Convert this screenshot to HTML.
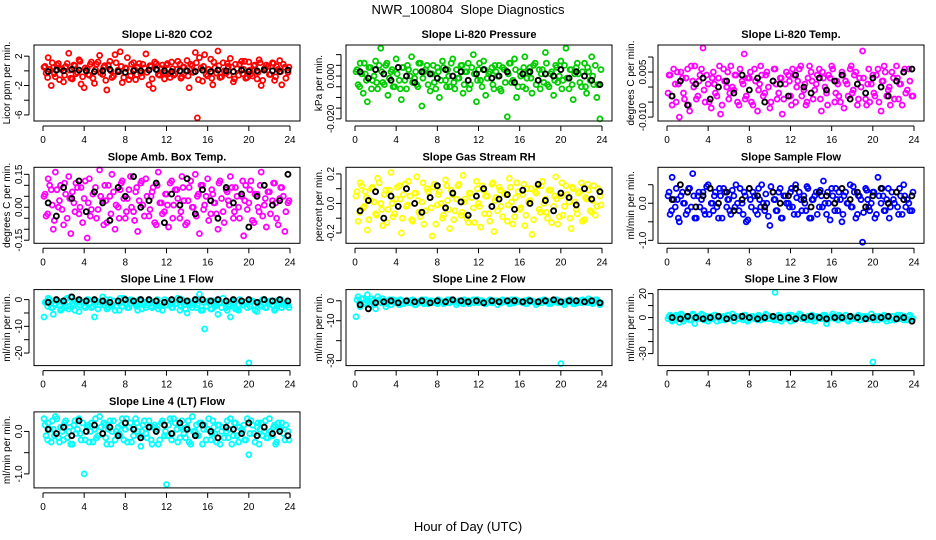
<!DOCTYPE html>
<html><head><meta charset="utf-8"><style>
body{margin:0;background:#fff;}
svg{display:block;font-family:"Liberation Sans",sans-serif;}
</style></head><body>
<svg id="chart" width="936" height="540" viewBox="0 0 936 540" xmlns="http://www.w3.org/2000/svg">
<text x="468" y="14" text-anchor="middle" font-size="13" xml:space="preserve">NWR_100804  Slope Diagnostics</text>
<text x="468" y="531" text-anchor="middle" font-size="13">Hour of Day (UTC)</text>
</svg>
<script>
const hours = [0.1,0.3,0.5,0.8,1.0,1.2,1.5,1.7,2.0,2.2,2.5,2.7,3.0,3.2,3.5,3.7,4.0,4.3,4.5,4.7,5.0,5.2,5.5,5.8,6.0,6.2,6.5,6.7,7.0,7.3,7.5,7.7,8.0,8.2,8.5,8.8,9.0,9.2,9.5,9.7,10.0,10.3,10.5,10.7,11.0,11.2,11.5,11.8,12.0,12.2,12.5,12.7,13.0,13.3,13.5,13.7,14.0,14.2,14.5,14.8,15.0,15.2,15.5,15.7,16.0,16.3,16.5,16.7,17.0,17.2,17.5,17.8,18.0,18.2,18.5,18.7,19.0,19.3,19.5,19.7,20.0,20.2,20.5,20.8,21.0,21.2,21.5,21.7,22.0,22.3,22.5,22.7,23.0,23.2,23.5,23.8];
const hours2 = [0.2,0.45,0.65,0.9,1.1,1.35,1.6,1.85,2.1,2.35,2.6,2.85,3.1,3.35,3.6,3.85,4.1,4.4,4.6,4.85,5.1,5.35,5.6,5.9,6.1,6.35,6.6,6.85,7.1,7.4,7.6,7.85,8.1,8.35,8.6,8.9,9.1,9.35,9.6,9.85,10.1,10.4,10.6,10.85,11.1,11.35,11.6,11.9,12.1,12.35,12.6,12.85,13.1,13.4,13.6,13.85,14.1,14.35,14.6,14.9,15.1,15.35,15.6,15.85,16.1,16.4,16.6,16.85,17.1,17.35,17.6,17.9,18.1,18.35,18.6,18.85,19.1,19.4,19.6,19.85,20.1,20.35,20.6,20.9,21.1,21.35,21.6,21.85,22.1,22.4,22.6,22.85,23.1,23.35,23.6,23.9];
const refHours = [0.5,1.3,2.0,2.8,3.5,4.2,5.0,5.8,6.5,7.3,8.0,8.8,9.5,10.3,11.0,11.8,12.5,13.3,14.0,14.8,15.5,16.3,17.0,17.8,18.5,19.3,20.0,20.8,21.5,22.3,23.0,23.8];
const xTicks = [0,4,8,12,16,20,24];

const co2Vals = [0.5,-0.3,1.8,-2.0,0.4,-0.8,1.0,0.2,-1.5,0.6,2.4,-1.0,0.8,-0.4,1.5,-1.8,-2.3,0.3,-0.6,1.2,-1.7,0.9,2.1,-0.5,0.7,-2.6,1.3,-0.9,2.2,0.1,2.6,-1.6,0.4,1.8,-0.7,1.1,-1.2,0.5,-0.3,0.9,2.3,-1.9,0.6,-2.4,1.0,-0.5,0.3,-1.1,0.8,-0.4,1.2,-0.6,0.2,0.9,-0.8,0.5,1.4,-2.3,0.7,2.5,-6.4,1.8,-1.4,2.2,-0.7,1.6,-1.9,0.4,2.7,-0.9,1.1,-0.3,0.6,1.7,-1.5,0.9,-0.6,1.3,0.2,-1.0,1.2,-0.4,0.7,-1.1,1.5,-2.0,0.3,0.8,-0.5,1.1,-1.3,0.6,1.4,-1.9,0.5,-0.2];
const co2Vals2 = [0.6,-0.9,0.2,1.1,-0.4,0.8,-1.2,0.3,-0.6,1.0,0.1,-1.1,0.7,-0.2,1.3,-0.8,0.4,-0.5,0.9,-1.0,0.2,1.2,-0.3,0.5,-1.3,0.8,0.0,-0.7,1.1,-0.1,0.6,-0.9,0.3,-1.2,0.9,0.2,-0.5,1.0,-0.8,0.4,-0.2,0.7,-1.1,1.2,0.1,-0.6,0.8,-0.3,1.0,-0.9,0.3,-0.4,1.3,-1.0,0.5,0.0,-0.7,0.9,-0.2,1.1,-1.2,0.4,0.6,-0.5,0.2,-1.0,1.2,-0.3,0.7,-0.8,0.0,1.0,-0.6,0.5,-1.1,0.3,0.9,-0.4,1.3,-0.9,0.1,-0.7,0.8,-0.2,1.1,-1.3,0.4,0.6,-0.5,1.0,-0.8,0.2,-0.1,0.9,-1.0,0.5];
const co2Ref = [-0.1,0.1,0,0.2,0.1,0,-0.1,0,0.2,-0.1,-0.2,0,0,0.1,0.2,0,-0.1,0,0,-0.1,0.1,-0.1,0.1,0,-0.1,0.1,-0.1,0,0.1,0,-0.1,0.1];

const presVals = [.002,-.004,.006,-.008,.001,-.012,.004,-.002,.007,-.006,.013,-.003,.005,-.009,.002,-.005,.008,-.002,-.011,.004,-.006,.003,.009,-.001,-.004,.006,-.014,.002,.005,-.007,.001,-.003,.004,-.010,.007,-.002,.003,-.005,.008,-.006,-.001,.005,-.008,.002,.006,-.004,.010,-.012,.003,-.002,.007,-.009,.001,.004,-.006,.002,.005,-.007,.003,-.019,.006,-.003,.008,-.010,.002,-.005,.009,-.001,.004,-.008,.006,-.002,-.006,.003,.011,-.004,.001,-.009,.005,-.003,.007,-.002,.013,-.006,.003,-.011,.004,.001,-.005,.006,-.008,.002,.009,-.004,-.010,-.020];
const presVals2 = [.003,-.005,.001,.006,-.002,.004,-.006,.000,-.003,.005,.002,-.004,.006,-.001,.003,-.005,.001,-.006,.004,-.002,.005,.000,-.003,.002,-.005,.006,-.001,.003,-.004,.001,.005,-.006,.002,-.002,.004,-.005,.000,.006,-.003,.003,-.001,.005,-.004,.002,-.006,.004,.001,-.002,.006,-.005,.003,-.001,.002,-.004,.005,.000,-.006,.004,-.003,.001,.006,-.002,.003,-.005,.000,.004,-.006,.002,-.001,.005,-.004,.003,.001,-.003,.006,-.005,.002,-.002,.004,.000,-.006,.005,-.001,.003,-.004,.001,.006,-.003,.002,-.005,.004,-.002,.000,.005,-.004,.003];
const presRef = [.002,-.001,.003,.001,-.002,.004,.000,-.003,.002,.001,-.001,.003,.000,.002,-.002,.001,.003,-.001,.000,.002,-.003,.001,.002,-.002,.001,.000,.003,-.001,.002,.000,-.002,-.004];

const tempVals = [-.002,.004,-.006,.001,.005,-.010,.003,-.004,.006,-.008,.002,.007,-.003,.004,.013,-.005,.001,-.007,.005,-.002,.003,-.009,.006,.000,-.004,.007,-.001,.004,-.006,.002,.011,-.003,.003,-.005,.006,-.008,.001,.004,-.002,.005,-.007,.002,.006,-.004,.003,-.009,.001,.004,-.003,.006,-.005,.002,.007,-.001,-.006,.003,.005,-.004,.001,.006,-.008,.003,-.002,.004,.007,-.005,.002,-.003,.005,-.007,.001,.006,-.002,.004,-.006,.003,.012,-.004,.001,-.005,.004,-.003,.006,-.008,.002,.005,-.001,-.006,.003,.007,-.004,.001,.005,-.002,.006,-.003];
const tempVals2 = [.004,-.003,.006,-.005,.001,.005,-.002,.003,-.006,.007,.000,-.004,.002,.006,-.001,.004,-.005,.003,.001,-.003,.007,-.006,.002,.005,-.002,.000,.004,-.005,.006,.001,-.004,.003,.005,-.006,.002,-.001,.007,-.003,.004,.000,-.005,.006,.001,-.002,.003,-.004,.005,.002,-.006,.004,.000,.006,-.003,.001,-.005,.007,.002,-.001,.004,-.004,.005,.000,-.006,.003,.006,-.002,.001,-.005,.004,.002,-.003,.007,-.001,.005,-.004,.000,.003,-.006,.006,.001,-.002,.004,-.005,.002,.007,-.003,.000,.005,-.004,.003,.001,-.006,.006,-.001,.002,-.003];
const tempRef = [-.003,.002,-.006,.001,.003,-.004,.000,.002,-.002,.004,-.001,.003,-.005,.002,.001,-.003,.004,.000,-.002,.003,-.001,.002,.004,-.004,.001,-.002,.003,.000,-.003,.002,.005,.006];

const boxVals = [.05,-.04,.13,.08,-.10,.16,.00,.10,-.08,.06,.14,-.12,.02,.11,-.03,.09,.04,-.14,.13,-.01,.07,-.05,.17,.03,.10,-.07,.05,.15,-.10,.00,.08,.12,-.05,.04,.14,-.02,.07,-.11,.11,.01,.13,-.04,.05,.09,-.08,.16,.02,-.02,.06,-.09,.12,.01,.08,-.05,.14,.03,-.07,.09,.00,.15,.05,-.12,.10,.01,.13,-.03,.06,.02,-.10,.12,-.02,.08,.03,.14,-.05,.09,.00,.05,-.13,.10,.02,.12,-.07,.06,-.02,.16,.01,-.09,.07,.03,.11,-.05,.04,.09,-.11,.02];
const boxVals2 = [.06,-.03,.10,.01,-.06,.08,.03,-.01,.11,-.05,.04,.07,-.02,.09,.00,-.07,.12,.02,-.04,.06,.09,-.01,.05,-.08,.03,.10,-.03,.07,.01,-.05,.11,.04,-.02,.08,.00,-.06,.09,.03,.12,-.04,.05,-.01,.07,-.07,.10,.02,-.03,.06,.01,.11,-.05,.08,.04,-.02,.09,-.08,.03,.12,.00,-.04,.06,.10,-.01,.05,-.06,.08,.02,-.03,.11,.04,-.07,.07,.01,.09,-.02,.05,-.05,.12,.03,-.01,.08,-.06,.06,.00,.10,-.04,.04,.07,-.03,.11,.02,-.08,.09,.05,-.02,.03];
const boxRef = [.02,-.04,.09,.04,.12,-.02,.07,.02,-.06,.09,.05,.14,.00,.03,.11,-.07,.06,.01,.13,-.03,.08,.03,-.05,.09,.02,.06,-.09,.05,.10,.01,.03,.15];

const rhVals = [.05,-.12,.14,-.03,.08,-.18,.02,.11,-.07,.17,.00,-.15,.09,-.04,.21,-.09,.03,.12,-.20,.06,-.02,.15,-.11,.07,.18,-.06,.01,-.14,.10,.04,-.22,.13,-.01,.08,-.10,.16,.02,-.17,.06,-.05,.12,-.08,.19,.03,-.13,.07,-.03,.15,.00,-.16,.09,.05,-.07,.13,-.19,.04,.11,-.02,.07,-.12,.17,.01,-.09,.14,-.04,.06,-.15,.10,.02,-.21,.08,.12,-.06,.15,.03,-.10,.09,-.02,.18,-.14,.05,-.08,.12,.01,-.17,.10,-.04,.07,.14,-.11,.03,.09,-.06,.12,-.02,.05];
const rhVals2 = [.08,-.06,.12,-.02,.04,-.11,.10,.01,-.08,.14,-.04,.06,-.13,.09,.00,-.07,.11,.03,-.10,.13,-.01,.05,-.12,.07,.02,-.09,.14,-.05,.08,-.03,.11,-.14,.06,.00,-.08,.12,-.04,.09,-.11,.03,.13,-.06,.01,-.10,.07,.04,-.13,.10,-.02,.12,-.07,.05,-.12,.14,.02,-.05,.09,-.09,.06,-.01,.11,-.14,.04,.08,-.03,.13,-.08,.01,.10,-.11,.07,-.04,.12,.00,-.06,.09,-.13,.05,.03,-.09,.14,-.02,.06,-.10,.11,.01,-.07,.08,-.12,.04,.13,-.05,.02,-.08,.10,-.01];
const rhRef = [-.05,.02,.08,-.10,.05,-.02,.10,.00,-.06,.04,.12,-.03,.07,.01,-.08,.05,.10,-.02,.03,.06,-.04,.09,.00,.13,.02,-.05,.07,.04,-.01,.10,.03,.08];

const flowVals = [.2,-.3,.7,-.1,.1,-.5,.3,.0,-.2,.4,.8,-.4,.2,-.1,.3,-.3,.5,.0,-.2,.3,-.4,.2,.4,-.1,.1,-.3,.2,.5,-.2,.0,.3,-.5,.4,-.1,.2,-.3,.1,.5,-.2,.0,-.6,.3,.1,-.2,.4,-.4,.2,.0,.3,-.1,.5,-.3,.1,.2,-.2,.4,-.4,.1,.3,-.1,.2,.6,-.3,.0,.4,-.2,.1,.3,-.5,.2,.0,.5,-.1,.3,-.3,.2,-1.05,.4,.1,-.2,.3,-.4,.7,.0,.2,-.2,.4,-.1,.1,.3,-.3,.2,.5,-.1,.0,-.2];
const flowVals2 = [.3,-.2,.1,.4,-.4,.2,.0,-.3,.4,-.1,.2,-.4,.3,.1,-.2,.45,-.3,.0,.2,-.1,.4,-.4,.3,.1,-.2,.35,-.1,.0,.4,-.3,.2,-.45,.1,.3,-.2,.4,-.1,.0,.25,-.35,.45,.1,-.2,.3,-.4,.2,.0,-.1,.4,-.3,.15,.3,-.2,.0,.45,-.4,.1,.2,-.3,.35,-.1,.0,.3,-.45,.2,.4,-.2,.1,-.3,.3,.0,-.1,.45,-.4,.2,.1,-.25,.35,-.1,.0,.3,-.3,.2,.4,-.2,.1,-.4,.3,.0,-.1,.4,-.3,.2,.1,-.2,.3];
const flowRef = [.1,.5,.3,-.1,.2,.4,.0,.3,-.2,.1,.4,.2,-.1,.3,.0,.2,.4,.1,-.1,.3,.2,.0,.4,.1,.3,-.1,.2,.4,.0,.3,.1,.2];

const line1Vals = [-6.5,-1,0.5,-3,-5.5,-2,-0.5,-4,-1.5,0,-3.5,1,-2,-0.5,-4.5,-1,-2.5,0,-1.5,-3,-6.5,-0.5,-2,1,-1,-3.5,0,-2,-4,-1,0.5,-2.5,-1.5,-3,0,-1,-2,-4,-0.5,-1.5,-3,0,-2.5,-1,-0.5,-3.5,-1.5,0,-2,-1,-3,-0.5,-1.5,-4,0,-2,-5,-1,-3,-0.5,-2,2,-4,-11,-1,-3.5,-0.5,-2.5,-5.5,-1,0.5,-3,-2,-6.5,-1,-3.5,-4,-1,-2,-1,-23.7,-0.5,-2,-4.5,-1,-2.5,0,-3,-1.5,-2,-4,-0.5,-1,-3,-1.5,-2];
const line1Vals2 = [-1,-2.5,0,-3,-1.5,-0.5,-2,-3.5,-1,0.5,-2.5,-1.5,-4,-0.5,-2,-1,-3,0,-1.5,-2.5,-0.5,-3.5,-1,-2,0,-3,-1.5,-0.5,-2.5,-4,-1,0.5,-2,-3,-0.5,-1.5,-2.5,0,-3.5,-1,-2,-0.5,-3,-1.5,0,-2.5,-4,-1,-0.5,-2,-3,-1.5,0.5,-2.5,-1,-3.5,-0.5,-2,-1.5,-3,0,-4,-1,-2.5,-0.5,-3.5,-1.5,-2,0,-3,-1,-4,-2.5,-0.5,-1.5,-3.5,0,-2,-1,-3,-2.5,-0.5,-4,-1.5,-2,0,-3,-1,-0.5,-2.5,-3.5,-1.5,0,-2,-1,-3];
const line1Ref = [-1,0,-0.5,1,0,-0.5,0,-0.5,-1,-0.5,0,-0.5,0,0,-0.5,-1,0,0,-0.5,0,0,-0.5,0,-0.5,0,-0.5,0,-1,0,-0.5,0,-0.5];

const line2Vals = [-8,2,-3,1,-1,3,-2,0,-4,2,-1,1,-3,0,-2,0.5,-1,-2,0,-1.5,-0.5,-1,0,-2,-0.5,-1,0.5,-1.5,-0.5,0,-1,-0.5,-1.5,0,-0.5,-1,0.5,-1,0,-0.5,-1,0,-1.5,-0.5,0,-1,0.5,-0.5,-1,0,-0.5,-1.5,0,-1,-0.5,0,-0.5,-1,0,-0.5,-1.5,0.5,-1,0,-0.5,-1,0,-1.5,-0.5,0,-1,-0.5,0,-1,-0.5,0,-1.5,-0.5,0,-1,-31.5,-0.5,-1,0,-0.5,-1.5,0,-0.5,-1,0,-0.5,1,-1,-0.5,0.5,-2];
const line2Vals2 = [0.5,-1,1,-1.5,0,-0.5,1,-2,-0.5,0.5,-1,0,-1.5,0.5,-0.5,-1,0,0.5,-1.5,-0.5,0,-1,0.5,-2,-0.5,0,-1,0.5,-1.5,0,-0.5,-1,0.5,-0.5,-1.5,0,-1,0.5,-0.5,-2,0,-1,0.5,-0.5,-1.5,0,-1,0.5,-0.5,0,-1.5,-1,0.5,-0.5,0,-2,-1,0.5,-0.5,0,-1.5,-1,0.5,0,-0.5,-1,-1.5,0.5,0,-0.5,-2,-1,0,0.5,-0.5,-1.5,-1,0,0.5,-0.5,-1,-2,0,0.5,-0.5,-1.5,-1,0,0.5,-0.5,-1,0,-1.5,0.5,-0.5,-1];
const line2Ref = [-2,-4,-1,-0.5,0,-1,0,-0.5,0,-1,0,-0.5,0.5,0,-0.5,0,-1,0,-0.5,0,0,-0.5,0,-0.5,0,0.5,-0.5,0,0,-0.5,0,-1];

const line3Vals = [-1,2,-3,0,1,-4,2,-1,0,-2,3,-5,1,-1,2,0,-3,1,-1,2,0,-2,1,-1,2,0,-3,1,-1,0,2,-2,0,1,-1,-2,1,0,-1,2,-1,0,21,-2,1,-1,0,2,-3,1,-1,0,2,-1,0,1,-2,-1,1,0,-1,2,-5,0,1,-1,0,2,-1,0,-2,1,0,-1,1,-2,0,1,-1,0,-37,1,-2,0,1,-1,0,-2,1,0,-1,2,-2,0,1,-1];
const line3Vals2 = [1,-2,0,2,-1,3,-3,0,1,-2,2,-1,0,3,-2,1,-1,0,2,-3,1,0,-2,2,-1,3,0,-1,1,-2,2,-3,0,1,-1,2,-2,0,3,-1,1,-2,0,2,-3,1,-1,0,2,-2,1,3,-1,0,-2,1,2,-3,0,-1,1,2,-2,0,3,-1,-2,1,0,2,-3,1,-1,0,2,-2,1,0,-1,3,-2,0,1,-1,2,-3,0,1,-2,2,-1,0,1,-2,2,-1];
const line3Ref = [0,-1,1,0,-1,0,1,-1,0,1,0,-1,0,1,0,0,-1,0,1,0,-1,0,0,1,0,-1,0,0,1,-1,0,-3];

const line4Vals = [.30,-.10,.20,-.25,.05,.35,-.15,.10,-.20,.25,.00,-.30,.15,-.05,.30,-.20,-1.0,.10,-.25,.20,.05,-.15,.35,-.05,.15,-.30,.25,.00,-.20,.10,-.10,.30,.05,-.25,.20,-.10,.30,.00,-.35,.15,-.05,.25,-.20,.10,.00,-.30,.20,-.10,-1.25,.15,-.20,.30,.05,-.15,.25,-.05,.10,-.25,.35,.00,-.10,.20,-.30,.15,.05,-.20,.25,-.05,.15,-.30,.10,.00,-.15,.30,-.10,.20,-.25,.05,.15,-.20,-.55,.25,-.05,.10,-.30,.20,.00,-.15,.30,-.10,.15,-.25,.05,.20,-.20,.00];
const line4Vals2 = [.15,-.20,.05,.25,-.10,.30,-.25,.00,.20,-.15,.10,-.30,.25,.05,-.05,.20,-.20,.15,.00,-.25,.30,-.10,.10,.20,-.15,.05,-.30,.25,.00,-.05,.15,-.20,.30,.10,-.25,.05,.20,-.10,.00,.25,-.15,.10,-.30,.15,.05,-.20,.25,.00,-.10,.30,-.05,.20,-.25,.10,.05,-.15,.25,-.30,.00,.15,-.10,.20,.05,-.20,.30,-.05,.10,-.25,.15,.00,-.15,.25,.05,-.30,.20,-.10,.10,.00,-.20,.30,-.05,.15,-.25,.20,.05,-.10,.25,-.15,.00,.10,-.30,.20,.05,-.05,.15,-.20];
const line4Ref = [.05,-.05,.10,-.10,.25,.00,.15,-.05,.10,-.10,.20,.05,-.15,.10,.00,.15,-.05,.20,.05,-.10,.15,.00,-.15,.10,.05,-.05,.20,-.10,.10,-.05,.00,-.10];

const co2Ticks=[-6,-4,-2,0,2], co2Labels=['-6','','-2','','2'];
const presTicks=[-.02,-.015,-.01,-.005,0,.005,.01], presLabels=['-0.020','','','','0.000','',''];
const tempTicks=[-.01,-.005,0,.005,.01], tempLabels=['-0.010','','','0.005',''];
const boxTicks=[-.15,-.1,-.05,0,.05,.1,.15], boxLabels=['-0.15','','','0.00','','','0.15'];
const rhTicks=[-.2,-.1,0,.1,.2], rhLabels=['-0.2','','0.0','','0.2'];
const flowTicks=[-1,-.5,0,.5], flowLabels=['-1.0','','0.0',''];
const line1Ticks=[-20,-15,-10,-5,0], line1Labels=['-20','','-10','','0'];
const line2Ticks=[-30,-20,-10,0], line2Labels=['-30','','-10','0'];
const line3Ticks=[-30,-20,-10,0,10,20], line3Labels=['-30','','','0','','20'];
const line4Ticks=[-1,-.5,0], line4Labels=['-1.0','','0.0'];

const panels = [
 {id:'co2',title:'Slope Li-820 CO2',ylab:'Licor ppm per min.',col:'#ff0000',r:0,c:0,lim:[-6.83,3.52],v:co2Vals,v2:co2Vals2,ref:co2Ref,t:co2Ticks,l:co2Labels},
 {id:'pressure',title:'Slope Li-820 Pressure',ylab:'kPa per min.',col:'#00cc00',r:0,c:1,lim:[-0.021,0.0145],v:presVals,v2:presVals2,ref:presRef,t:presTicks,l:presLabels},
 {id:'temp',title:'Slope Li-820 Temp.',ylab:'degrees C per min.',col:'#ff00ff',r:0,c:2,lim:[-0.0113,0.014],v:tempVals,v2:tempVals2,ref:tempRef,t:tempTicks,l:tempLabels},
 {id:'box-temp',title:'Slope Amb. Box Temp.',ylab:'degrees C per min.',col:'#ff00ff',r:1,c:0,lim:[-0.164,0.182],v:boxVals,v2:boxVals2,ref:boxRef,t:boxTicks,l:boxLabels},
 {id:'rh',title:'Slope Gas Stream RH',ylab:'percent per min.',col:'#ffff00',r:1,c:1,lim:[-0.27,0.245],v:rhVals,v2:rhVals2,ref:rhRef,t:rhTicks,l:rhLabels},
 {id:'sample-flow',title:'Slope Sample Flow',ylab:'ml/min per min.',col:'#0000ff',r:1,c:2,lim:[-1.08,0.97],v:flowVals,v2:flowVals2,ref:flowRef,t:flowTicks,l:flowLabels},
 {id:'line1',title:'Slope Line 1 Flow',ylab:'ml/min per min.',col:'#00ffff',r:2,c:0,lim:[-24.7,3.75],v:line1Vals,v2:line1Vals2,ref:line1Ref,t:line1Ticks,l:line1Labels},
 {id:'line2',title:'Slope Line 2 Flow',ylab:'ml/min per min.',col:'#00ffff',r:2,c:1,lim:[-32.5,5.6],v:line2Vals,v2:line2Vals2,ref:line2Ref,t:line2Ticks,l:line2Labels},
 {id:'line3',title:'Slope Line 3 Flow',ylab:'ml/min per min.',col:'#00ffff',r:2,c:2,lim:[-40,23.3],v:line3Vals,v2:line3Vals2,ref:line3Ref,t:line3Ticks,l:line3Labels},
 {id:'line4',title:'Slope Line 4 (LT) Flow',ylab:'ml/min per min.',col:'#00ffff',r:3,c:0,lim:[-1.33,0.46],v:line4Vals,v2:line4Vals2,ref:line4Ref,t:line4Ticks,l:line4Labels}
];

const NS='http://www.w3.org/2000/svg';
const svg=document.getElementById('chart');
function mk(tag,attrs,parent){const e=document.createElementNS(NS,tag);for(const k in attrs)e.setAttribute(k,attrs[k]);(parent||svg).appendChild(e);return e;}

panels.forEach(p=>{
  const L=34+312*p.c, T=45+122.3*p.r, W=266, H=76;
  const g=mk('g',{});
  
  
  const xs=h=>L+9+h*(247/24);
  const ys=v=>T+H-(v-p.lim[0])/(p.lim[1]-p.lim[0])*H;
  const tt=mk('text',{x:L+W/2,y:T-7,'text-anchor':'middle','font-size':'11','font-weight':'bold'},g);
  tt.textContent=p.title;
  
  
  const yl=mk('text',{transform:`translate(${L-24},${T+H/2}) rotate(-90)`,'text-anchor':'middle','font-size':'10'},g);
  yl.textContent=p.ylab;
  
  
  const pg=mk('g',{fill:'none','stroke-width':'1.8'},g);
  
  
  p.v.forEach((v,i)=>{
    const c=mk('circle',{cx:xs(hours[i]),cy:ys(v),r:2.5,stroke:p.col},pg);
    
    
  });
  p.v2.forEach((v,i)=>{
    const c=mk('circle',{cx:xs(hours2[i]),cy:ys(v),r:2.5,stroke:p.col},pg);
    
    
  });
  const rg=mk('g',{fill:'none','stroke-width':'1.9',stroke:'#000'},g);
  
  
  p.ref.forEach((v,i)=>{
    const c=mk('circle',{cx:xs(refHours[i]),cy:ys(v),r:2.5},rg);
    
    
  });
  const box=mk('rect',{x:L,y:T,width:W,height:H,fill:'none',stroke:'#000','stroke-width':'1'},g);
  
  
  const xa=mk('g',{},g);
  
  
  mk('line',{x1:xs(xTicks[0]),x2:xs(xTicks[xTicks.length-1]),y1:T+H+5,y2:T+H+5,stroke:'#000'},xa);
  xTicks.forEach(h=>{
    mk('line',{x1:xs(h),x2:xs(h),y1:T+H+5,y2:T+H+10,stroke:'#000'},xa);
    const t=mk('text',{x:xs(h),y:T+H+22,'text-anchor':'middle','font-size':'10'},xa);
    t.textContent=h;
    
    
  });
  const ya=mk('g',{},g);
  
  
  mk('line',{x1:L-5,x2:L-5,y1:ys(p.t[0]),y2:ys(p.t[p.t.length-1]),stroke:'#000'},ya);
  p.t.forEach((v,i)=>{
    mk('line',{x1:L-10,x2:L-5,y1:ys(v),y2:ys(v),stroke:'#000'},ya);
    if(p.l[i]){
      const t=mk('text',{transform:`translate(${L-12},${ys(v)}) rotate(-90)`,'text-anchor':'middle','font-size':'10'},ya);
      t.textContent=p.l[i];
      
      
    }
  });
});
</script>
</body></html>
